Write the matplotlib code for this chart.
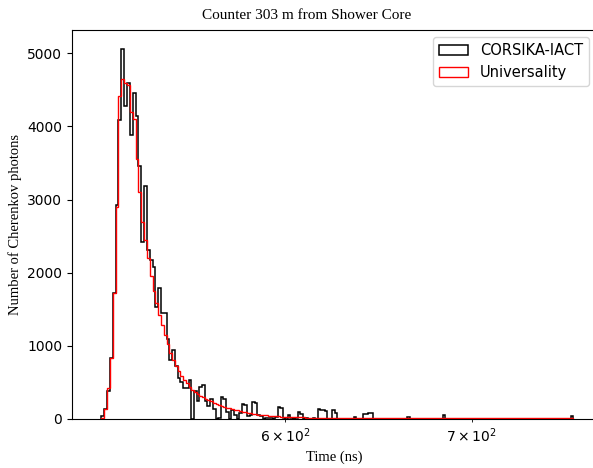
import numpy as np
import matplotlib
matplotlib.use("Agg")
import matplotlib.pyplot as plt

# Histogram binning (ns)
t_start = 515.0
bin_width = 1.25

corsika_counts = [
    40, 140, 380, 830, 1720, 2930, 4095, 5066, 4278, 4600,
    3890, 4460, 4140, 3455, 2425, 3180, 2310, 2175, 2083, 1534,
    1790, 1447, 1443, 1100, 800, 940, 720, 560, 505, 420,
    430, 528, 0, 380, 250, 436, 460, 250, 180, 277,
    130, 0, 20, 300, 280, 100, 0, 120, 60, 0,
    80, 210, 185, 40, 60, 230, 217, 60, 40, 0,
    20, 10, 20, 0, 30, 162, 153, 20, 0, 50,
    20, 0, 10, 93, 75, 0, 10, 0, 0, 20,
    0, 140, 126, 117, 107, 0, 0, 117, 80, 0,
    0, 0, 0, 0, 0, 0, 30, 0, 0, 0,
    70, 70, 80, 80, 0, 0, 0, 0, 0, 0,
    0, 0, 0, 0, 0, 0, 0, 0, 0, 30,
    0, 0, 0, 0, 0, 0, 0, 0, 0, 0,
    0, 0, 0, 0, 0, 60, 0, 0, 0, 0,
    0, 0, 0, 0, 0, 0, 0, 0, 0, 0,
    0, 0, 0, 0, 0, 0, 0, 0, 0, 0,
    0, 0, 0, 0, 0, 0, 0, 0, 0, 0,
    0, 0, 0, 0, 0, 0, 0, 0, 0, 0,
    0, 0, 0, 0, 0, 0, 0, 0, 0, 0,
    0, 0, 0, 0, 0, 0, 40,
]

universality_counts = [
    20, 130, 420, 830, 1720, 2900, 4415, 4650, 4600, 4570,
    4200, 4100, 3550, 3100, 2700, 2450, 2200, 1950, 1750, 1580,
    1420, 1280, 1150, 1020, 900, 800, 720, 650, 590, 540,
    490, 440, 400, 370, 345, 320, 300, 280, 260, 240,
    225, 210, 195, 180, 165, 155, 145, 135, 125, 118,
    110, 100, 92, 85, 78, 72, 66, 60, 56, 52,
    48, 45, 42, 40, 38, 36, 34, 32, 30, 28,
    26, 25, 24, 23, 22, 21, 20, 19, 18, 17,
    16, 15, 15, 14, 14, 13, 13, 12, 12, 11,
    11, 11, 10, 10, 10, 10, 10, 10, 10, 10,
    10, 10, 10, 9, 9, 9, 9, 9, 9, 9,
    9, 9, 9, 9, 9, 8, 8, 8, 8, 8,
    8, 8, 8, 8, 8, 8, 8, 8, 8, 8,
    8, 8, 8, 8, 8, 8, 8, 8, 8, 8,
    7, 7, 7, 7, 7, 7, 7, 7, 7, 7,
    7, 7, 7, 7, 7, 7, 7, 7, 7, 7,
    7, 7, 7, 7, 7, 7, 7, 7, 7, 7,
    7, 7, 7, 7, 7, 7, 7, 7, 7, 7,
    7, 7, 7, 7, 7, 7, 7, 7, 7, 7,
    7, 7, 7, 7, 7, 7, 7,
]

series_labels = ["CORSIKA-IACT", "Universality"]
title = "Counter 303 m from Shower Core"
xlabel = "Time (ns)"
ylabel = "Number of Cherenkov photons"
x_limits = (502.8, 776.0)

n_bins = len(corsika_counts)
edges = t_start + bin_width * np.arange(n_bins + 1)
centers = 0.5 * (edges[:-1] + edges[1:])

fig = plt.figure(figsize=(5.93, 4.68), dpi=100)
ax = fig.add_axes([72 / 593, 1 - 419 / 468, 524 / 593, (419 - 30) / 468])

ax.hist(centers, bins=edges, weights=corsika_counts, histtype="step",
        color="black", linewidth=1.1, label=series_labels[0])
ax.hist(centers, bins=edges, weights=universality_counts, histtype="step",
        color="red", linewidth=1.0, label=series_labels[1])

ax.set_xscale("log")
ax.set_xlim(*x_limits)

serif = ["Liberation Serif", "DejaVu Serif"]
ax.set_title(title, fontsize=11, family=serif, x=0.448, pad=8)
ax.set_xlabel(xlabel, fontsize=10.5, family=serif)
ax.set_ylabel(ylabel, fontsize=10.5, family=serif)
ax.tick_params(labelsize=10)

ax.legend(loc="upper right", fontsize=10.5)

fig.savefig("out.png", dpi=100)
